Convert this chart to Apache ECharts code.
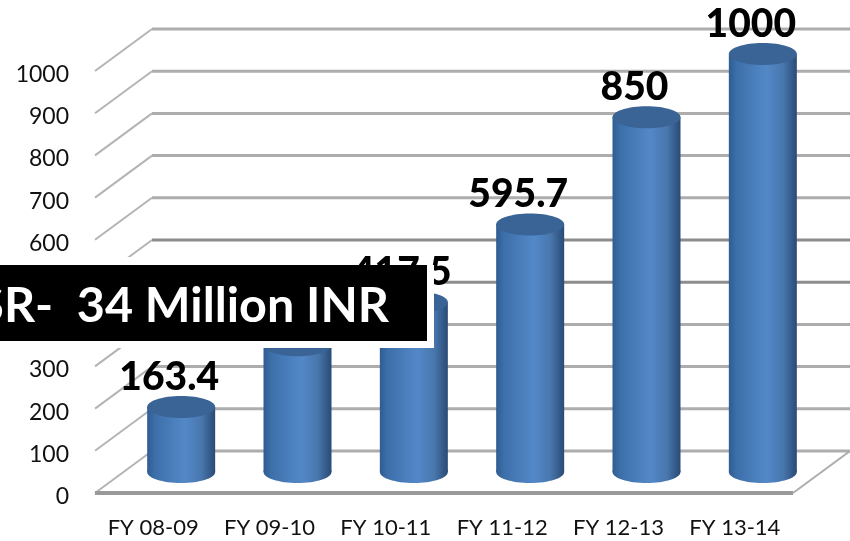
<!DOCTYPE html>
<html><head><meta charset="utf-8"><style>html,body{margin:0;padding:0;background:#fff}#c{width:850px;height:541px;filter:blur(0.5px)}</style>
<script src="https://cdn.jsdelivr.net/npm/echarts@6/dist/echarts.min.js"></script></head>
<body><div id="c"></div>
<script>
const categories = ['FY 08-09','FY 09-10','FY 10-11','FY 11-12','FY 12-13','FY 13-14'];
const values = [163.4, 310, 412, 595.7, 850, 1000];
const labels = ['163.4','310','417.5','595.7','850','1000'];
const ticks = [0,100,200,300,400,500,600,700,800,900,1000];
const overlayText = 'SR-  34 Million INR';

const font = 'Lato, Carlito, sans-serif';
const DX = 57, DY = -42;      // depth of the 3D box
const BX = 28, BY = -17, BASE = -21;      // bar offset into the box
const HALF = 34, RY = 11;
const chart = echarts.init(document.getElementById('c'), null, {renderer:'canvas'});
const bodyGrad = () => new echarts.graphic.LinearGradient(0,0,1,0,[
  {offset:0,color:'#2f5c92'},{offset:0.12,color:'#3d70aa'},{offset:0.55,color:'#5388c8'},
  {offset:0.8,color:'#4877ad'},{offset:1,color:'#2a4a75'}]);
chart.setOption({
  animation:false,
  backgroundColor:'#fff',
  grid:{left:95,right:57,top:71,bottom:48},
  xAxis:{type:'category',data:categories,axisLine:{show:false},axisTick:{show:false},
    axisLabel:{fontFamily:font,fontSize:22,color:'#111',margin:24,interval:0}},
  yAxis:{type:'value',min:0,max:1000,interval:100,splitLine:{show:false},axisLine:{show:false},axisTick:{show:false},
    axisLabel:{margin:26,formatter:v=>'{n|'+v+'}',
      rich:{n:{fontFamily:font,fontSize:23,color:'#111',padding:[7,0,0,0]}}}},
  series:[
    {type:'custom',z:1,clip:false,silent:true,data:ticks.map(t=>[0,t]),
     renderItem(p,api){
       const v=api.value(1),c=api.coord([0,v]),g=p.coordSys,x0=g.x,x1=g.x+g.width,y=c[1];
       const major=v===0;
       const col=(v===500||v===400)?'#8c8c8c':'#adadad';
       const st={stroke:col,lineWidth:3,fill:null};
       const ch=[
         {type:'line',shape:{x1:x0,y1:y,x2:x0+DX,y2:y+DY},style:{stroke:'#b4b4b4',lineWidth:2}},
         {type:'line',shape:{x1:x0+DX,y1:y+DY,x2:x1+DX,y2:y+DY},style:st}
       ];
       if(major){
         ch.push({type:'line',shape:{x1:x0,y1:y,x2:x1,y2:y},style:{stroke:'#999',lineWidth:4}});
         ch.push({type:'line',shape:{x1:x1,y1:y,x2:x1+DX,y2:y+DY},style:{stroke:'#adadad',lineWidth:2}});
       }
       return {type:'group',children:ch};
     }},
    {type:'custom',z:3,clip:false,silent:true,data:values.map((v,i)=>[i,v,labels[i]]),
     encode:{x:0,y:1},
     renderItem(p,api){
       const i=api.value(0),v=api.value(1);
       const b=api.coord([i,0]),t=api.coord([i,v]);
       const cx=b[0]+BX,yb=b[1]+BASE,yt=t[1]+BY;
       return {type:'group',children:[
         {type:'ellipse',shape:{cx,cy:yb,rx:HALF,ry:RY},style:{fill:bodyGrad()}},
         {type:'rect',shape:{x:cx-HALF,y:yt,width:HALF*2,height:yb-yt},style:{fill:bodyGrad()}},
         {type:'ellipse',shape:{cx,cy:yt,rx:HALF,ry:RY},style:{fill:'#3a6496'}},
         {type:'text',style:{x:cx-12,y:yt-30,text:String(labels[i]),fill:'#000',
           font:'900 39px '+font,align:'center',verticalAlign:'middle'}}
       ]};
     }}
  ],
  graphic:[
    {type:'rect',z:100,shape:{x:0,y:257,width:350,height:91},style:{fill:'#fff'}},
    {type:'rect',z:100,shape:{x:0,y:265,width:434,height:83},style:{fill:'#fff'}},
    {type:'rect',z:101,shape:{x:0,y:265,width:427,height:76},style:{fill:'#000'}},
    {type:'text',z:102,style:{x:389,y:306,text:overlayText,fill:'#fff',font:'bold 48.5px '+font,align:'right',verticalAlign:'middle'}}
  ]
});
</script></body></html>
